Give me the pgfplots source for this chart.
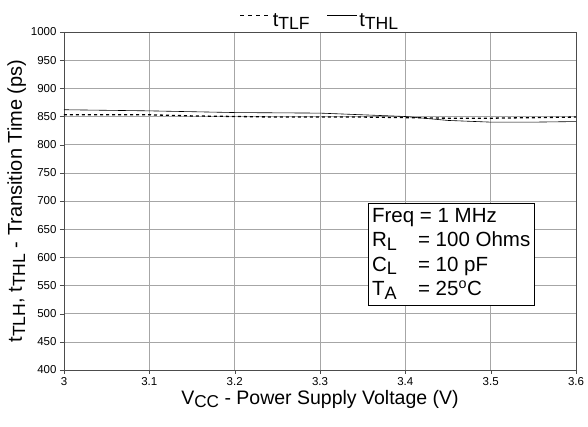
\documentclass[border=0pt]{standalone}
\usepackage{pgfplots}
\pgfplotsset{compat=1.18}
\usepackage{fontspec}
\setmainfont{Liberation Sans}
\newcommand{\sub}[1]{\raisebox{-0.32ex}{\scalebox{0.88}{#1}}}
\begin{document}
\begin{tikzpicture}
\begin{axis}[
  at={(0,0)}, anchor=south west,
  scale only axis, width=512pt, height=338pt,
  xmin=3, xmax=3.6, ymin=400, ymax=1000,
  xtick={3,3.1,...,3.6},
  xticklabels={3,3.1,3.2,3.3,3.4,3.5,3.6},
  ytick={400,450,...,1000},
  yticklabel style={/pgf/number format/1000 sep={}},
  grid=major,
  grid style={gray!70, line width=0.6pt},
  axis line style={gray!60!black, line width=0.6pt},
  tick align=outside, tick pos=left,
  major tick length=4pt,
  tick style={gray!60!black},
  /pgf/number format/assume math mode=true,
  ticklabel style={font=\fontsize{11.5}{12}\selectfont},
  xlabel={V\sub{CC} - Power Supply Voltage (V)},
  ylabel={t\sub{TLH}, t\sub{THL} - Transition Time (ps)},
  xlabel style={font=\fontsize{19.5}{21}\selectfont, yshift=2pt},
  ylabel style={font=\fontsize{20}{21}\selectfont, yshift=-2pt},
  legend style={at={(0.5,1.0)}, anchor=south, draw=none, fill=none,
    font=\fontsize{20}{21}\selectfont, legend columns=2,
    /tikz/every even column/.append style={column sep=15pt}},
  legend image code/.code={\draw[#1] (0pt,5pt) -- (30pt,5pt);},
  legend cell align=left,
]
\addplot[black, line width=1.3pt, dash pattern=on 3pt off 3pt,
  forget plot] coordinates {
 (3,853) (3.05,853) (3.1,853) (3.15,851) (3.2,850) (3.25,849) (3.3,849) (3.35,849) (3.4,848) (3.45,847) (3.5,847) (3.55,848) (3.6,849)};
\addlegendimage{black, line width=1pt, dash pattern=on 4pt off 4pt}
\addlegendentry{t\sub{TLF}}
\addplot[black, line width=0.6pt] coordinates {
 (3,862) (3.1,860) (3.2,857) (3.3,856) (3.35,853) (3.4,850) (3.45,843) (3.5,840) (3.55,840) (3.6,841)};
\addlegendentry{t\sub{THL}}
\node[draw=black, line width=0.6pt, fill=white, anchor=north west, align=left,
  inner xsep=4pt, inner ysep=2pt, minimum width=164pt,
  font=\fontsize{20.5}{24.5}\selectfont] at (axis cs:3.356,697) {%
  \begin{tabular}{@{}l@{}l@{}}
  \multicolumn{2}{@{}l@{}}{Freq = 1 MHz}\\
  \makebox[46pt][l]{R\sub{L}} & = 100 Ohms\\
  C\sub{L} & = 10 pF\\
  T\sub{A} & = 25\textsuperscript{o}C
  \end{tabular}};
\end{axis}
\pgfresetboundingbox
\path[use as bounding box] (-64pt,-57pt) rectangle (524pt,370pt);
\end{tikzpicture}
\end{document}
